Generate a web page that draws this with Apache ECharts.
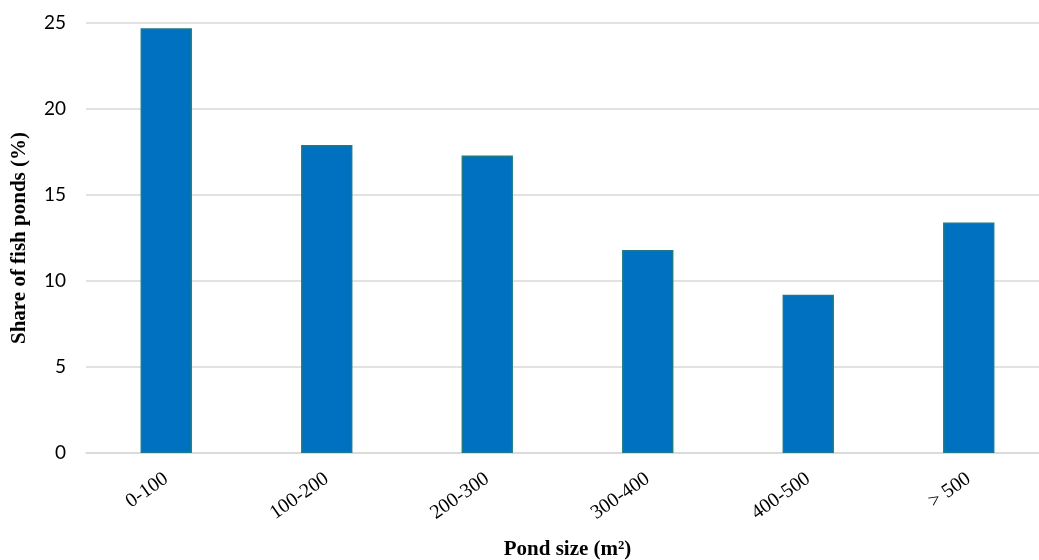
<!DOCTYPE html>
<html>
<head>
<meta charset="utf-8">
<script src="https://cdn.jsdelivr.net/npm/echarts@6/dist/echarts.min.js"></script>
<style>
  html, body { margin: 0; padding: 0; background: #fff; }
  #chart { width: 1039px; height: 560px; }
</style>
</head>
<body>
<div id="chart"></div>
<script>
// Pond size classes (m²) and share of fish ponds in each class (%)
const categories = ['0-100', '100-200', '200-300', '300-400', '400-500', '> 500'];
const shares = [24.7, 17.9, 17.3, 11.8, 9.2, 13.4];
const yTicks = [0, 5, 10, 15, 20, 25];

const chart = echarts.init(document.getElementById('chart'));
chart.setOption({
  animation: false,
  // plot area runs a little past the right edge of the canvas
  grid: {
    left: 86, top: 23, width: 963, height: 430,
    containLabel: false, outerBoundsMode: 'none'
  },
  xAxis: {
    type: 'category',
    data: categories,
    name: 'Pond size (m²)',
    nameLocation: 'middle',
    nameGap: 86,
    nameTextStyle: { fontFamily: 'Liberation Serif', fontWeight: 'bold', fontSize: 21, color: '#000' },
    axisLine: { lineStyle: { color: '#d9d9d9', width: 1.5 } },
    axisTick: { show: false },
    axisLabel: {
      rotate: 35, margin: 24, color: '#000',
      fontFamily: 'Liberation Serif', fontSize: 20
    }
  },
  yAxis: {
    type: 'value',
    min: yTicks[0], max: yTicks[yTicks.length - 1], interval: 5,
    name: 'Share of fish ponds (%)',
    nameLocation: 'middle',
    nameGap: 56,
    nameTextStyle: { fontFamily: 'Liberation Serif', fontWeight: 'bold', fontSize: 21, color: '#000' },
    axisLine: { show: false },
    axisTick: { show: false },
    axisLabel: { color: '#000', fontFamily: 'Lato', fontSize: 19, margin: 20 },
    splitLine: { lineStyle: { color: '#d9d9d9', width: 1.5 } }
  },
  series: [{
    type: 'bar',
    data: shares,
    barWidth: '32%',
    itemStyle: { color: '#0070c0', borderColor: '#1d7b86', borderWidth: 1.5 }
  }]
});
</script>
</body>
</html>
